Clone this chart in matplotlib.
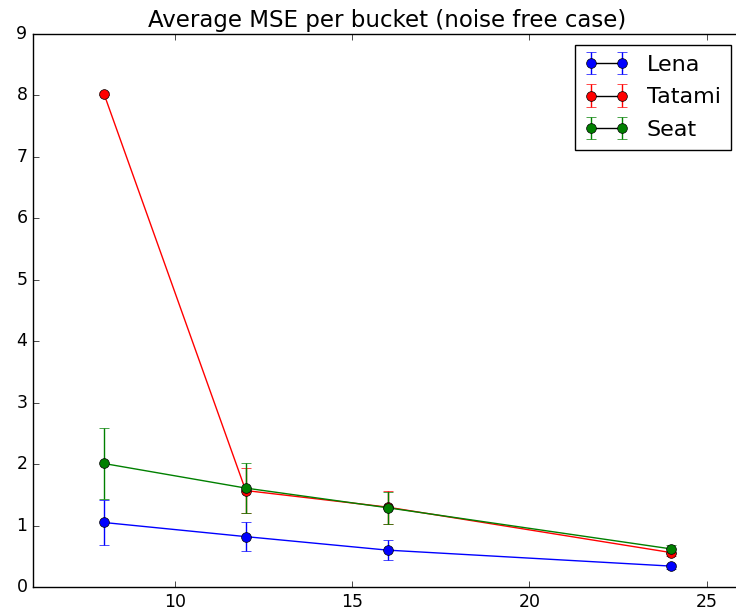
import numpy as np
import matplotlib
matplotlib.use("Agg")
import matplotlib.pyplot as plt
from matplotlib.lines import Line2D

# bucket sizes
buckets = [8, 12, 16, 24]

lena_mse = [1.05, 0.82, 0.60, 0.34]
lena_err = [0.37, 0.24, 0.16, 0.04]

tatami_mse = [8.03, 1.57, 1.30, 0.56]
tatami_err = [0.02, 0.37, 0.27, 0.06]

seat_mse = [2.01, 1.61, 1.29, 0.62]
seat_err = [0.57, 0.40, 0.26, 0.06]

plt.style.use('classic')
plt.rcParams['xtick.labelsize'] = 12.5
plt.rcParams['ytick.labelsize'] = 12.5

fig = plt.figure(figsize=(7.36, 6.14), dpi=100, facecolor='white')
ax = fig.add_axes([33/736, 27/614, 709/736, 553/614])

kw = dict(marker='o', markersize=7, markeredgecolor='k', capsize=3.5, lw=1.0)
ax.errorbar(buckets, lena_mse, yerr=lena_err, color='b', label='Lena', **kw)
ax.errorbar(buckets, tatami_mse, yerr=tatami_err, color='r', label='Tatami', **kw)
ax.errorbar(buckets, seat_mse, yerr=seat_err, color='g', label='Seat', **kw)

ax.set_xlim(6, 26)
ax.set_ylim(0, 9)
ax.set_xticks([10, 15, 20, 25])
ax.set_title('Average MSE per bucket (noise free case)', fontsize=16.5)

leg = ax.legend(loc='upper right', numpoints=2, fontsize=16, fancybox=False,
                borderaxespad=0.5, borderpad=0.45, labelspacing=0.55)
leg.get_frame().set_edgecolor('k')
# old-style legend: connecting line drawn in black
for ln in leg.findobj(Line2D):
    if ln.get_linestyle() == '-' and str(ln.get_marker()).lower() in ('none', ''):
        ln.set_color('k')

fig.savefig('out.png', dpi=100, facecolor='white')
